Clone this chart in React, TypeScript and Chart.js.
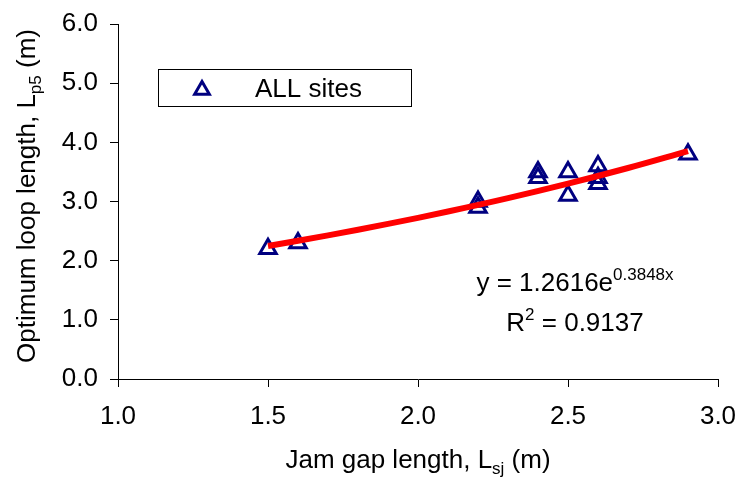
import React, { useEffect, useRef } from "react";
import { Chart, registerables } from "chart.js";

Chart.register(...registerables);

const jamGap = [1.5, 1.6, 2.2, 2.2, 2.4, 2.4, 2.5, 2.5, 2.6, 2.6, 2.6, 2.9];
const loopLen = [2.2, 2.3, 2.9, 3.0, 3.4, 3.5, 3.5, 3.1, 3.6, 3.4, 3.3, 3.8];

// Exponential trend line (y = 1.2616e^0.3848x), sampled values
const trendX = [1.5, 1.7, 1.9, 2.1, 2.3, 2.5, 2.7, 2.9];
const trendY = [2.247, 2.427, 2.621, 2.831, 3.057, 3.302, 3.566, 3.851];

const xTicks = [1.0, 1.5, 2.0, 2.5, 3.0];
const yTicks = [0, 1, 2, 3, 4, 5, 6];

const seriesLabel = "ALL sites";
const eqMain = "y = 1.2616e";
const eqExp = "0.3848x";
const r2Value = " = 0.9137";

const FONT = "'Liberation Sans', Arial, sans-serif";
const NAVY = "#000080";
const FS = 26;

type Part = { t: string; k: "n" | "sub" | "sup" };

function drawParts(
  ctx: CanvasRenderingContext2D,
  parts: Part[],
  x: number,
  y: number,
  size: number,
  align: "center" | "left"
) {
  const small = Math.round(size * 0.65);
  const fontFor = (k: string) => `${k === "n" ? size : small}px ${FONT}`;
  let total = 0;
  for (const p of parts) {
    ctx.font = fontFor(p.k);
    total += ctx.measureText(p.t).width;
  }
  let cx = align === "center" ? x - total / 2 : x;
  ctx.textBaseline = "alphabetic";
  ctx.textAlign = "left";
  for (const p of parts) {
    ctx.font = fontFor(p.k);
    const dy = p.k === "sub" ? size * 0.22 : p.k === "sup" ? -size * 0.42 : 0;
    ctx.fillText(p.t, cx, y + dy);
    cx += ctx.measureText(p.t).width;
  }
}

const annotations = {
  id: "annotations",
  afterDraw(chart: any) {
    const ctx: CanvasRenderingContext2D = chart.ctx;
    const area = chart.chartArea;
    ctx.save();
    ctx.fillStyle = "#000";

    // x-axis title
    drawParts(
      ctx,
      [
        { t: "Jam gap length, L", k: "n" },
        { t: "sj", k: "sub" },
        { t: " (m)", k: "n" },
      ],
      (area.left + area.right) / 2,
      468,
      FS,
      "center"
    );

    // y-axis title
    ctx.save();
    ctx.translate(35, 196);
    ctx.rotate(-Math.PI / 2);
    drawParts(
      ctx,
      [
        { t: "Optimum loop length, L", k: "n" },
        { t: "p5", k: "sub" },
        { t: " (m)", k: "n" },
      ],
      0,
      0,
      FS,
      "center"
    );
    ctx.restore();

    // legend box
    ctx.fillStyle = "#fff";
    ctx.fillRect(158, 69, 253, 37);
    ctx.strokeStyle = "#000";
    ctx.lineWidth = 1;
    ctx.strokeRect(158.5, 69.5, 253, 37);
    ctx.strokeStyle = NAVY;
    ctx.lineWidth = 3;
    const tx = 202, ty = 90, r = 8.5;
    ctx.beginPath();
    ctx.moveTo(tx, ty - r);
    ctx.lineTo(tx + r * 0.866, ty + r * 0.5);
    ctx.lineTo(tx - r * 0.866, ty + r * 0.5);
    ctx.closePath();
    ctx.stroke();
    ctx.fillStyle = "#000";
    drawParts(ctx, [{ t: seriesLabel, k: "n" }], 255, 97, FS, "left");

    // equation
    drawParts(
      ctx,
      [
        { t: eqMain, k: "n" },
        { t: eqExp, k: "sup" },
      ],
      575,
      291,
      FS,
      "center"
    );
    drawParts(
      ctx,
      [
        { t: "R", k: "n" },
        { t: "2", k: "sup" },
        { t: r2Value, k: "n" },
      ],
      575,
      331,
      FS,
      "center"
    );
    ctx.restore();
  },
};

const zeroPad = (s: any) => {
  s.paddingTop = 0;
  s.paddingBottom = 0;
  s.paddingLeft = 0;
  s.paddingRight = 0;
};

export default function App() {
  const ref = useRef<HTMLCanvasElement | null>(null);

  useEffect(() => {
    if (!ref.current) return;
    const chart = new Chart(ref.current, {
      type: "scatter",
      data: {
        datasets: [
          {
            type: "line",
            label: "trend",
            data: trendX.map((x, i) => ({ x, y: trendY[i] })),
            borderColor: "#FF0000",
            borderWidth: 6,
            pointRadius: 0,
            tension: 0.4,
            fill: false,
          } as any,
          {
            label: seriesLabel,
            data: jamGap.map((x, i) => ({ x, y: loopLen[i] })),
            pointStyle: "triangle",
            pointRadius: 9.5,
            pointBorderWidth: 3,
            pointBorderColor: NAVY,
            pointBackgroundColor: "rgba(0,0,0,0)",
          },
        ],
      },
      options: {
        responsive: false,
        animation: false,
        devicePixelRatio: 1,
        layout: { padding: { top: 24, right: 24, left: 0, bottom: 0 } },
        plugins: {
          legend: { display: false },
          tooltip: { enabled: false },
        },
        scales: {
          x: {
            type: "linear",
            min: xTicks[0],
            max: xTicks[xTicks.length - 1],
            afterBuildTicks: (s: any) => {
              s.ticks = xTicks.map((v) => ({ value: v }));
            },
            afterFit: (s: any) => {
              s.height = 98;
              zeroPad(s);
            },
            grid: {
              display: true,
              drawOnChartArea: false,
              drawTicks: true,
              tickLength: 8,
              color: "#000",
            },
            border: { display: true, color: "#000", width: 1 },
            ticks: {
              color: "#000",
              font: { family: FONT, size: FS },
              padding: 14,
              maxRotation: 0,
              callback: (v: any) => Number(v).toFixed(1),
            },
          },
          y: {
            type: "linear",
            min: yTicks[0],
            max: yTicks[yTicks.length - 1],
            afterBuildTicks: (s: any) => {
              s.ticks = yTicks.map((v) => ({ value: v }));
            },
            afterFit: (s: any) => {
              s.width = 118;
              zeroPad(s);
            },
            grid: {
              display: true,
              drawOnChartArea: false,
              drawTicks: true,
              tickLength: 8,
              color: "#000",
            },
            border: { display: true, color: "#000", width: 1 },
            ticks: {
              color: "#000",
              font: { family: FONT, size: FS },
              padding: 12,
              callback: (v: any) => Number(v).toFixed(1),
            },
          },
        },
      },
      plugins: [annotations],
    });
    return () => chart.destroy();
  }, []);

  return (
    <div style={{ position: "absolute", left: 0, top: 0, width: 742, height: 477, background: "#fff" }}>
      <canvas ref={ref} width={742} height={477} />
    </div>
  );
}
